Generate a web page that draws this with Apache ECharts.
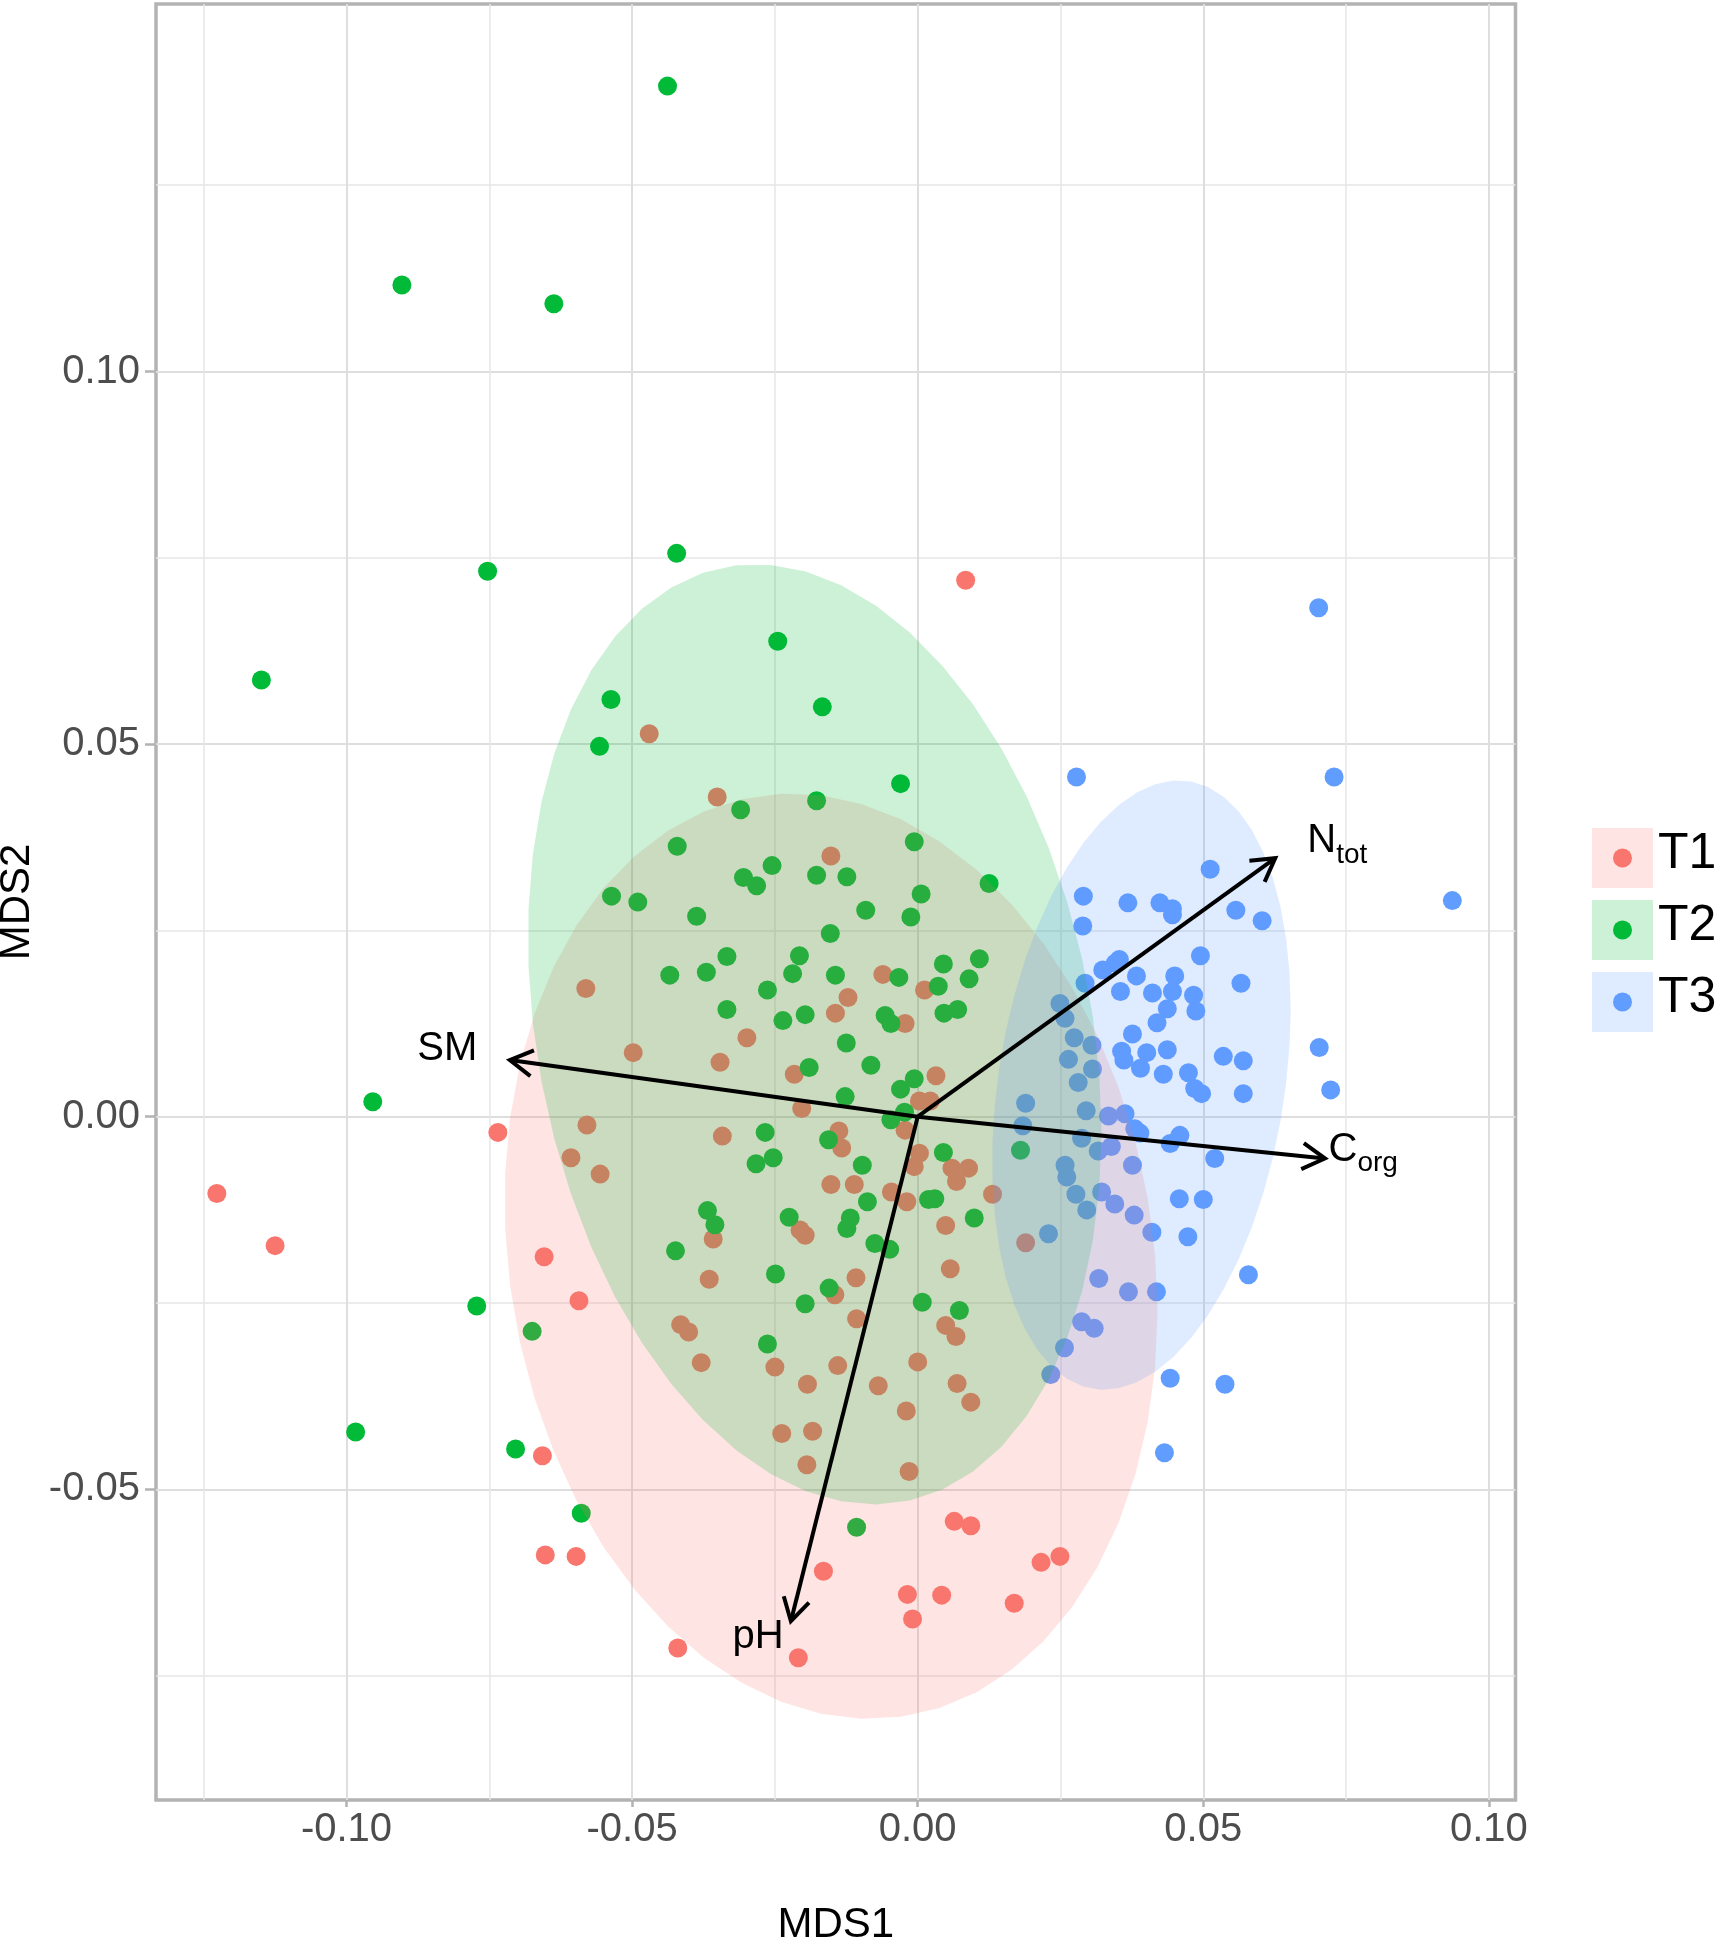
<!DOCTYPE html>
<html>
<head>
<meta charset="utf-8">
<script src="https://cdn.jsdelivr.net/npm/echarts@6/dist/echarts.min.js"></script>
<style>
html,body{margin:0;padding:0;background:#ffffff;}
#main{width:1720px;height:1945px;}
</style>
</head>
<body>
<div id="main"></div>
<script>
// ---------------- data ----------------
const groupNames = ['T1', 'T2', 'T3'];
const groupColors = ['#F8766D', '#00BA38', '#619CFF'];

const t1Points = [
  [0.0084, 0.0720], [-0.1227, -0.0103], [-0.1125, -0.0173], [-0.0735, -0.0021],
  [-0.0654, -0.0188], [-0.0593, -0.0247], [-0.0657, -0.0455], [-0.0652, -0.0588],
  [-0.0598, -0.0590], [-0.0165, -0.0610], [-0.0018, -0.0641], [0.0042, -0.0642],
  [-0.0009, -0.0674], [0.0064, -0.0543], [0.0093, -0.0549], [0.0216, -0.0598],
  [0.0249, -0.0590], [0.0169, -0.0653], [-0.0420, -0.0713], [-0.0209, -0.0726],
  [-0.0470, 0.0514], [-0.0351, 0.0429], [-0.0152, 0.0350], [-0.0581, 0.0172],
  [-0.0061, 0.0191], [0.0012, 0.0170], [-0.0122, 0.0160], [-0.0144, 0.0139],
  [-0.0022, 0.0125], [-0.0299, 0.0106], [-0.0498, 0.0086], [-0.0346, 0.0073],
  [-0.0216, 0.0057], [0.0032, 0.0055], [0.0003, 0.0021], [0.0022, 0.0021],
  [-0.0203, 0.0011], [-0.0022, -0.0018], [-0.0579, -0.0011], [-0.0342, -0.0026],
  [-0.0138, -0.0019], [-0.0133, -0.0042], [-0.0607, -0.0055], [-0.0556, -0.0077],
  [0.0003, -0.0049], [-0.0006, -0.0067], [0.0060, -0.0069], [0.0089, -0.0069],
  [0.0068, -0.0087], [-0.0152, -0.0091], [-0.0111, -0.0091], [-0.0046, -0.0101],
  [-0.0019, -0.0114], [0.0131, -0.0104], [0.0049, -0.0146], [-0.0206, -0.0152],
  [-0.0197, -0.0159], [0.0189, -0.0169], [0.0057, -0.0204], [0.0049, -0.0280],
  [0.0067, -0.0295], [0.0069, -0.0358], [0.0093, -0.0383], [-0.0358, -0.0164],
  [-0.0365, -0.0218], [-0.0108, -0.0216], [-0.0145, -0.0239], [-0.0107, -0.0271],
  [-0.0415, -0.0279], [-0.0401, -0.0289], [-0.0379, -0.0330], [-0.0250, -0.0336],
  [-0.0140, -0.0334], [0.0000, -0.0329], [-0.0193, -0.0359], [-0.0069, -0.0361],
  [-0.0020, -0.0395], [-0.0238, -0.0425], [-0.0184, -0.0422], [-0.0194, -0.0467],
  [-0.0015, -0.0476]
];

const t2Points = [
  [-0.0438, 0.1383], [-0.0903, 0.1116], [-0.0637, 0.1091], [-0.0753, 0.0732],
  [-0.0422, 0.0756], [-0.0245, 0.0638], [-0.1149, 0.0586], [-0.0954, 0.0020],
  [-0.0772, -0.0254], [-0.0984, -0.0423], [-0.0704, -0.0446], [-0.0675, -0.0288],
  [-0.0589, -0.0532], [-0.0107, -0.0551], [-0.0537, 0.0560], [-0.0167, 0.0550],
  [-0.0557, 0.0497], [-0.0030, 0.0447], [-0.0310, 0.0412], [-0.0177, 0.0424],
  [-0.0421, 0.0363], [-0.0006, 0.0369], [-0.0255, 0.0337], [-0.0305, 0.0321],
  [-0.0282, 0.0310], [-0.0177, 0.0324], [-0.0124, 0.0322], [0.0006, 0.0299],
  [-0.0536, 0.0296], [-0.0490, 0.0288], [-0.0387, 0.0269], [-0.0091, 0.0277],
  [-0.0012, 0.0268], [-0.0153, 0.0246], [-0.0334, 0.0215], [-0.0207, 0.0216],
  [-0.0434, 0.0190], [-0.0370, 0.0194], [-0.0219, 0.0192], [-0.0144, 0.0190],
  [-0.0033, 0.0187], [-0.0263, 0.0170], [-0.0334, 0.0144], [-0.0236, 0.0129],
  [-0.0197, 0.0137], [-0.0057, 0.0136], [-0.0047, 0.0125], [-0.0125, 0.0099],
  [-0.0190, 0.0066], [-0.0082, 0.0069], [-0.0006, 0.0051], [-0.0030, 0.0037],
  [-0.0127, 0.0027], [-0.0023, 0.0006], [-0.0047, -0.0004], [-0.0267, -0.0021],
  [-0.0156, -0.0031], [0.0045, 0.0205], [0.0108, 0.0212], [0.0090, 0.0185],
  [0.0036, 0.0175], [0.0046, 0.0139], [0.0070, 0.0144], [0.0045, -0.0048],
  [-0.0253, -0.0055], [-0.0097, -0.0065], [-0.0088, -0.0114], [-0.0225, -0.0135],
  [-0.0118, -0.0136], [-0.0124, -0.0150], [-0.0075, -0.0170], [-0.0049, -0.0178],
  [0.0019, -0.0111], [0.0030, -0.0110], [0.0099, -0.0136], [0.0180, -0.0045],
  [0.0125, 0.0313], [0.0073, -0.0260], [-0.0283, -0.0063], [-0.0368, -0.0126],
  [-0.0355, -0.0145], [-0.0424, -0.0180], [-0.0249, -0.0211], [-0.0155, -0.0230],
  [-0.0197, -0.0251], [0.0008, -0.0249], [-0.0263, -0.0305]
];

const t3Points = [
  [0.0702, 0.0683], [0.0936, 0.0290], [0.0729, 0.0456], [0.0278, 0.0456],
  [0.0512, 0.0332], [0.0290, 0.0296], [0.0368, 0.0287], [0.0424, 0.0287],
  [0.0446, 0.0279], [0.0446, 0.0271], [0.0557, 0.0277], [0.0603, 0.0263],
  [0.0289, 0.0256], [0.0495, 0.0216], [0.0353, 0.0211], [0.0324, 0.0197],
  [0.0346, 0.0206], [0.0383, 0.0189], [0.0450, 0.0189], [0.0293, 0.0179],
  [0.0355, 0.0168], [0.0411, 0.0166], [0.0446, 0.0168], [0.0483, 0.0163],
  [0.0566, 0.0179], [0.0249, 0.0152], [0.0437, 0.0145], [0.0487, 0.0142],
  [0.0258, 0.0132], [0.0419, 0.0126], [0.0274, 0.0106], [0.0305, 0.0096],
  [0.0376, 0.0111], [0.0357, 0.0088], [0.0401, 0.0086], [0.0437, 0.0090],
  [0.0264, 0.0077], [0.0306, 0.0064], [0.0361, 0.0076], [0.0390, 0.0065],
  [0.0430, 0.0057], [0.0474, 0.0059], [0.0535, 0.0081], [0.0570, 0.0075],
  [0.0703, 0.0093], [0.0723, 0.0036], [0.0281, 0.0046], [0.0485, 0.0038],
  [0.0497, 0.0031], [0.0570, 0.0031], [0.0189, 0.0018], [0.0184, -0.0012],
  [0.0295, 0.0008], [0.0334, 0.0001], [0.0363, 0.0004], [0.0380, -0.0016],
  [0.0389, -0.0022], [0.0287, -0.0029], [0.0316, -0.0046], [0.0339, -0.0040],
  [0.0459, -0.0025], [0.0442, -0.0036], [0.0258, -0.0065], [0.0261, -0.0081],
  [0.0277, -0.0104], [0.0322, -0.0101], [0.0296, -0.0125], [0.0345, -0.0117],
  [0.0229, -0.0157], [0.0520, -0.0056], [0.0376, -0.0065], [0.0379, -0.0132],
  [0.0458, -0.0110], [0.0500, -0.0111], [0.0410, -0.0155], [0.0473, -0.0161],
  [0.0579, -0.0212], [0.0317, -0.0217], [0.0369, -0.0235], [0.0418, -0.0235],
  [0.0287, -0.0275], [0.0309, -0.0284], [0.0257, -0.0310], [0.0233, -0.0346],
  [0.0442, -0.0351], [0.0538, -0.0359], [0.0432, -0.0451]
];

const xTicks = [-0.10, -0.05, 0.00, 0.05, 0.10];
const yTicks = [-0.05, 0.00, 0.05, 0.10];

const vectorNames = ['SM', 'N', 'C', 'pH'];
const vectorSubs = ['', 'tot', 'org', ''];
const vectorX = [-0.0714, 0.0626, 0.0713, -0.0222];
const vectorY = [0.0076, 0.0347, -0.0056, -0.0677];
const vectorLabelX = [-0.0876, 0.0682, 0.0719, -0.0324];
const vectorLabelY = [0.0091, 0.0370, -0.0044, -0.0698];

// ---------------- helpers ----------------
const FONT = '"Liberation Sans", Arial, Helvetica, sans-serif';

function rgba(hex, a) {
  const n = parseInt(hex.slice(1), 16);
  return 'rgba(' + ((n >> 16) & 255) + ',' + ((n >> 8) & 255) + ',' + (n & 255) + ',' + a + ')';
}

// robust (multivariate t) covariance, as MASS::cov.trob used by stat_ellipse(type = "t")
function covTrob(pts) {
  const nu = 5, p = 2, n = pts.length, maxit = 25, tol = 0.01;
  let loc = [0, 0];
  pts.forEach(q => { loc[0] += q[0] / n; loc[1] += q[1] / n; });
  let w = pts.map(() => 1);
  let X = [];
  for (let it = 0; it < maxit; it++) {
    const w0 = w.slice();
    X = pts.map(q => [q[0] - loc[0], q[1] - loc[1]]);
    let sw = 0, a = 0, b = 0, c = 0;
    for (let i = 0; i < n; i++) {
      sw += w[i];
      a += w[i] * X[i][0] * X[i][0];
      b += w[i] * X[i][0] * X[i][1];
      c += w[i] * X[i][1] * X[i][1];
    }
    a /= sw; b /= sw; c /= sw;
    const det = a * c - b * b;
    w = X.map(v => (nu + p) / (nu + (c * v[0] * v[0] - 2 * b * v[0] * v[1] + a * v[1] * v[1]) / det));
    let s = 0, lx = 0, ly = 0;
    for (let i = 0; i < n; i++) { s += w[i]; lx += w[i] * pts[i][0]; ly += w[i] * pts[i][1]; }
    loc = [lx / s, ly / s];
    let maxd = 0;
    for (let i = 0; i < n; i++) maxd = Math.max(maxd, Math.abs(w[i] - w0[i]));
    if (maxd < tol) break;
  }
  let a = 0, b = 0, c = 0;
  for (let i = 0; i < n; i++) {
    a += w[i] * X[i][0] * X[i][0];
    b += w[i] * X[i][0] * X[i][1];
    c += w[i] * X[i][1] * X[i][1];
  }
  return { center: loc, cov: [a / n, b / n, c / n] };
}

function ellipsePoints(pts, level, segments) {
  const est = covTrob(pts);
  const dfd = pts.length - 1;
  const f = (dfd / 2) * (Math.pow(1 - level, -2 / dfd) - 1); // qf(level, 2, dfd)
  const r = Math.sqrt(2 * f);
  const R11 = Math.sqrt(est.cov[0]);
  const R12 = est.cov[1] / R11;
  const R22 = Math.sqrt(est.cov[2] - R12 * R12);
  const out = [];
  for (let k = 0; k <= segments; k++) {
    const t = 2 * Math.PI * k / segments;
    const ct = Math.cos(t), st = Math.sin(t);
    out.push([est.center[0] + r * ct * R11, est.center[1] + r * (ct * R12 + st * R22)]);
  }
  return out;
}

const groupPoints = [t1Points, t2Points, t3Points];
const ellipses = groupPoints.map(p => ellipsePoints(p, 0.95, 51));

// ---------------- chart ----------------
const chart = echarts.init(document.getElementById('main'), null, { renderer: 'canvas' });

const axisCommon = {
  type: 'value',
  splitNumber: 5,
  axisLine: { show: false, onZero: false },
  splitLine: { show: true, lineStyle: { color: '#DEDEDE', width: 2 } },
  minorTick: { show: false, splitNumber: 2 },
  minorSplitLine: { show: true, lineStyle: { color: '#E6E6E6', width: 1.5 } },
  nameLocation: 'middle',
  nameTextStyle: { fontSize: 42, color: '#000000', fontFamily: FONT }
};

const series = [];
groupNames.forEach((g, i) => {
  series.push({
    name: g,
    type: 'scatter',
    data: groupPoints[i],
    symbol: 'circle',
    symbolSize: 19,
    itemStyle: { color: groupColors[i], opacity: 1 },
    emphasis: { disabled: true },
    z: 2
  });
});
series.push({
  name: 'ellipses',
  type: 'custom',
  data: [[0, 0], [1, 0], [2, 0]],
  silent: true,
  z: 3,
  renderItem: function (params, api) {
    const g = api.value(0);
    const pts = ellipses[g].map(p => api.coord(p));
    return { type: 'polygon', shape: { points: pts }, style: { fill: rgba(groupColors[g], 0.2) } };
  }
});
series.push({
  name: 'vectors',
  type: 'custom',
  data: vectorX.map((x, i) => [x, vectorY[i]]),
  silent: true,
  z: 4,
  renderItem: function (params, api) {
    const i = params.dataIndex;
    const o = api.coord([0, 0]);
    const t = api.coord([api.value(0), api.value(1)]);
    const ang = Math.atan2(t[1] - o[1], t[0] - o[0]);
    const L = 26, A = Math.PI / 6;
    const b1 = [t[0] - L * Math.cos(ang - A), t[1] - L * Math.sin(ang - A)];
    const b2 = [t[0] - L * Math.cos(ang + A), t[1] - L * Math.sin(ang + A)];
    const lp = api.coord([vectorLabelX[i], vectorLabelY[i]]);
    const children = [
      { type: 'line', shape: { x1: o[0], y1: o[1], x2: t[0], y2: t[1] }, style: { stroke: '#000', lineWidth: 4 } },
      { type: 'polyline', shape: { points: [b1, t, b2] }, style: { stroke: '#000', lineWidth: 4, fill: 'none', lineJoin: 'miter' } },
      { type: 'text', x: lp[0], y: lp[1], style: { text: vectorNames[i], fontSize: 40, fontFamily: FONT, fill: '#000', align: 'left', verticalAlign: 'middle' } }
    ];
    if (vectorSubs[i]) {
      children.push({ type: 'text', x: lp[0] + 29, y: lp[1] + 14, style: { text: vectorSubs[i], fontSize: 28, fontFamily: FONT, fill: '#000', align: 'left', verticalAlign: 'middle' } });
    }
    return { type: 'group', children: children };
  }
});

// legend keys (ggplot-style: ellipse-fill square with the point drawn in it)
const legendGraphics = [];
groupNames.forEach((g, i) => {
  const top = 828 + 72 * i;
  legendGraphics.push({ type: 'rect', x: 1592, y: top, z: 10, silent: true, shape: { width: 61, height: 60 }, style: { fill: rgba(groupColors[i], 0.2) } });
  legendGraphics.push({ type: 'circle', x: 1622.5, y: top + 30, z: 11, silent: true, shape: { r: 9.5 }, style: { fill: groupColors[i] } });
  legendGraphics.push({ type: 'text', x: 1658, y: top + 26, z: 11, silent: true, style: { text: g, fontSize: 50, fontFamily: FONT, fill: '#000', align: 'left', verticalAlign: 'middle' } });
});

const option = {
  animation: false,
  backgroundColor: '#ffffff',
  textStyle: { fontFamily: FONT },
  grid: {
    left: 156, right: 204.5, top: 4, bottom: 145,
    show: true, backgroundColor: '#ffffff', borderColor: '#B3B3B3', borderWidth: 3.5,
    outerBoundsMode: 'none'
  },
  graphic: legendGraphics,
  xAxis: Object.assign({}, axisCommon, {
    min: -0.13335, max: 0.10466,
    name: 'MDS1', nameGap: 104,
    axisTick: { show: true, customValues: xTicks, length: 7, lineStyle: { color: '#B3B3B3', width: 2.5 } },
    axisLabel: { customValues: xTicks, formatter: v => v.toFixed(2), fontSize: 40, color: '#4D4D4D', margin: 10, fontFamily: FONT }
  }),
  yAxis: Object.assign({}, axisCommon, {
    min: -0.09169, max: 0.14932,
    name: 'MDS2', nameGap: 115, nameRotate: 90,
    axisTick: { show: true, customValues: yTicks, length: 11, lineStyle: { color: '#B3B3B3', width: 2.5 } },
    axisLabel: { customValues: yTicks, formatter: v => v.toFixed(2), fontSize: 40, color: '#4D4D4D', margin: 16, fontFamily: FONT }
  }),
  series: series
};

chart.setOption(option);
</script>
</body>
</html>
